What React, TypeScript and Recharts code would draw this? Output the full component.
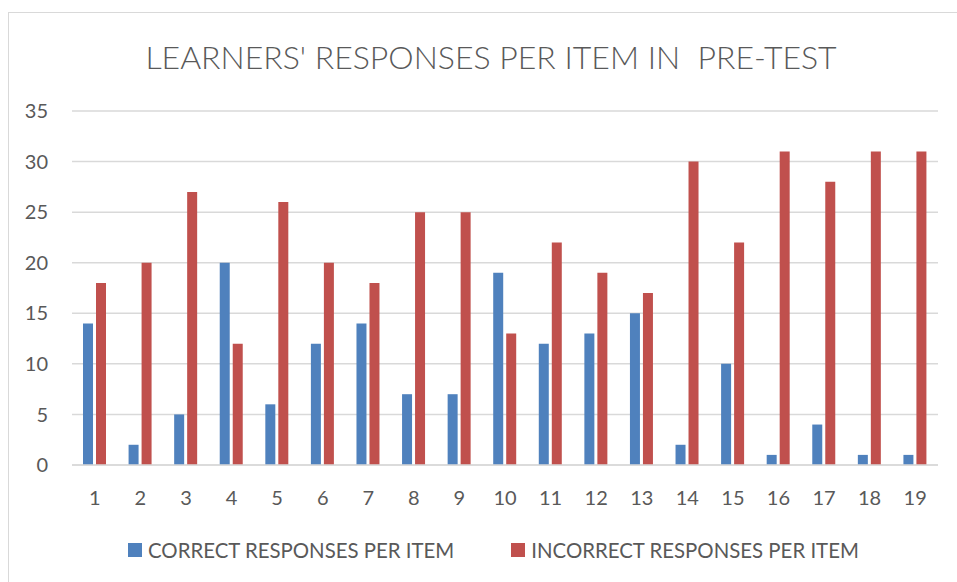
import { BarChart, Bar, XAxis, YAxis, CartesianGrid } from 'recharts';

const items = ['1', '2', '3', '4', '5', '6', '7', '8', '9', '10', '11', '12', '13', '14', '15', '16', '17', '18', '19'];
const correct = [14, 2, 5, 20, 6, 12, 14, 7, 7, 19, 12, 13, 15, 2, 10, 1, 4, 1, 1];
const incorrect = [18, 20, 27, 12, 26, 20, 18, 25, 25, 13, 22, 19, 17, 30, 22, 31, 28, 31, 31];
const yTicks = [0, 5, 10, 15, 20, 25, 30, 35];

const chartData = items.map((item, i) => ({
  item,
  correct: correct[i],
  incorrect: incorrect[i],
}));

const FONT = 'Lato, "Open Sans", sans-serif';
const TEXT = '#595959';
const BLUE = '#4F81BD';
const RED = '#C0504D';

// legend drawn as plain html under the plot
function ChartLegend() {
  const entries = [
    { label: 'CORRECT RESPONSES PER ITEM', color: BLUE },
    { label: 'INCORRECT RESPONSES PER ITEM', color: RED },
  ];
  return (
    <div style={{ position: 'absolute', top: 538, left: 128, display: 'flex', alignItems: 'center', gap: '57px' }}>
      {entries.map((e) => (
        <div key={e.label} style={{ display: 'flex', alignItems: 'center' }}>
          <span style={{ width: 14, height: 14, background: e.color, marginRight: 6, display: 'inline-block' }} />
          <span style={{ fontFamily: FONT, fontSize: 20.4, color: TEXT, lineHeight: '24px' }}>{e.label}</span>
        </div>
      ))}
    </div>
  );
}

export default function App() {
  return (
    <div style={{ position: 'absolute', left: 0, top: 0, width: 957, height: 582, background: '#fff', overflow: 'hidden' }}>
      {/* chart frame */}
      <div style={{ position: 'absolute', left: 8, top: 12, width: 1000, height: 600, borderLeft: '1px solid #d9d9d9', borderTop: '1px solid #d9d9d9' }} />
      <div
        style={{
          position: 'absolute', left: 0, top: 37, width: 982, textAlign: 'center',
          fontFamily: FONT, fontWeight: 300, fontSize: 32, color: TEXT, whiteSpace: 'pre',
        }}
      >
        LEARNERS' RESPONSES PER ITEM IN  PRE-TEST
      </div>
      <div style={{ position: 'absolute', left: 0, top: 0 }}>
        <BarChart
          width={957}
          height={582}
          data={chartData}
          margin={{ top: 111, right: 19, bottom: 77, left: 0 }}
          barSize={10}
          barGap={3}
        >
          <CartesianGrid vertical={false} stroke="#d9d9d9" strokeWidth={1.5} />
          <XAxis
            dataKey="item"
            tickLine={false}
            axisLine={{ stroke: '#d9d9d9', strokeWidth: 1.5 }}
            tickMargin={20}
            height={40}
            interval={0}
            tick={{ fontFamily: FONT, fontSize: 20, fill: TEXT }}
          />
          <YAxis
            domain={[0, 35]}
            ticks={yTicks}
            width={72}
            axisLine={false}
            tickLine={false}
            tickSize={0}
            tickMargin={24}
            tick={{ fontFamily: FONT, fontSize: 20, fill: TEXT }}
          />
          <Bar dataKey="correct" name="CORRECT RESPONSES PER ITEM" fill={BLUE} isAnimationActive={false} />
          <Bar dataKey="incorrect" name="INCORRECT RESPONSES PER ITEM" fill={RED} isAnimationActive={false} />
        </BarChart>
      </div>
      <ChartLegend />
    </div>
  );
}
